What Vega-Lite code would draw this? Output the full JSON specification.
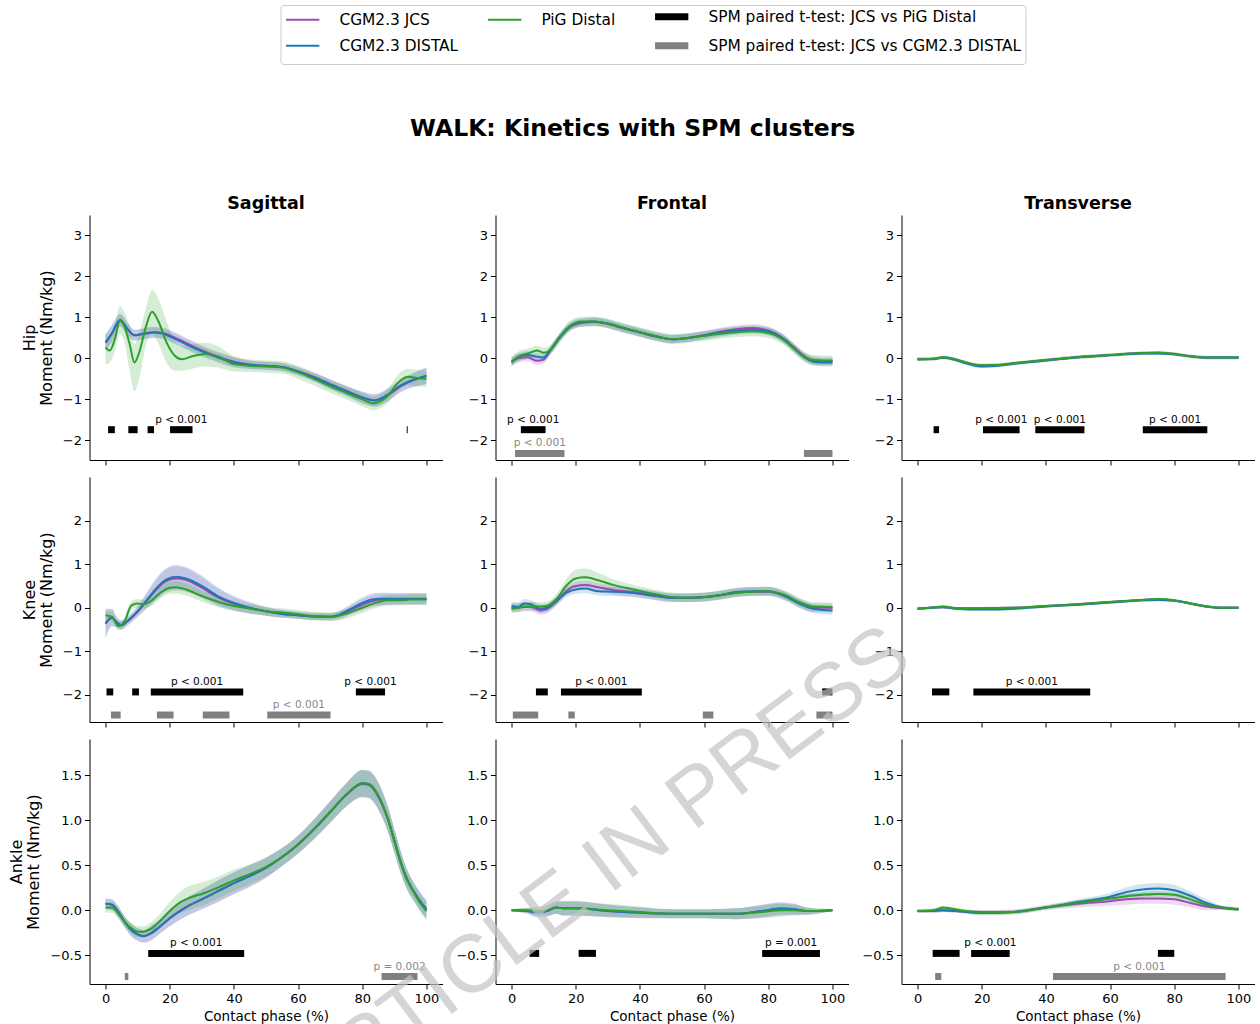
{
"$schema": "https://vega.github.io/schema/vega-lite/v6.json",
"background": "white",
"padding": {"left": 8.5, "top": 4, "right": 0, "bottom": 0},
"title": {"text": "WALK: Kinetics with SPM clusters", "fontSize": 23.5, "fontWeight": "bold", "font": "DejaVu Sans", "anchor": "middle", "offset": -136, "dx": 1, "color": "#000000"},
"datasets": {
"c": [
{"p":"HS","s":"J","x":0,"y":0.38,"lo":0.18,"hi":0.58},{"p":"HS","s":"J","x":2,"y":0.6,"lo":0.4,"hi":0.8},{"p":"HS","s":"J","x":4.5,"y":0.92,"lo":0.77,"hi":1.07},{"p":"HS","s":"J","x":7,"y":0.7,"lo":0.55,"hi":0.85},{"p":"HS","s":"J","x":9,"y":0.57,"lo":0.44,"hi":0.7},{"p":"HS","s":"J","x":12,"y":0.61,"lo":0.48,"hi":0.74},{"p":"HS","s":"J","x":15,"y":0.64,"lo":0.51,"hi":0.77},{"p":"HS","s":"J","x":18,"y":0.62,"lo":0.49,"hi":0.75},{"p":"HS","s":"J","x":21,"y":0.53,"lo":0.4,"hi":0.66},{"p":"HS","s":"J","x":25,"y":0.38,"lo":0.25,"hi":0.51},{"p":"HS","s":"J","x":29,"y":0.23,"lo":0.1,"hi":0.36},{"p":"HS","s":"J","x":34,"y":0.07,"lo":-0.05,"hi":0.19},{"p":"HS","s":"J","x":40,"y":-0.08,"lo":-0.2,"hi":0.04},{"p":"HS","s":"J","x":45,"y":-0.15,"lo":-0.25,"hi":-0.05},{"p":"HS","s":"J","x":50,"y":-0.18,"lo":-0.28,"hi":-0.08},{"p":"HS","s":"J","x":55,"y":-0.21,"lo":-0.31,"hi":-0.11},{"p":"HS","s":"J","x":60,"y":-0.31,"lo":-0.41,"hi":-0.21},{"p":"HS","s":"J","x":65,"y":-0.45,"lo":-0.55,"hi":-0.35},{"p":"HS","s":"J","x":70,"y":-0.62,"lo":-0.74,"hi":-0.5},{"p":"HS","s":"J","x":75,"y":-0.79,"lo":-0.91,"hi":-0.67},{"p":"HS","s":"J","x":80,"y":-0.95,"lo":-1.09,"hi":-0.81},{"p":"HS","s":"J","x":84,"y":-1.02,"lo":-1.17,"hi":-0.87},{"p":"HS","s":"J","x":88,"y":-0.9,"lo":-1.05,"hi":-0.75},{"p":"HS","s":"J","x":92,"y":-0.68,"lo":-0.83,"hi":-0.53},{"p":"HS","s":"J","x":96,"y":-0.53,"lo":-0.7,"hi":-0.36},{"p":"HS","s":"J","x":100,"y":-0.43,"lo":-0.63,"hi":-0.23},
{"p":"HS","s":"D","x":0,"y":0.39,"lo":0.19,"hi":0.59},{"p":"HS","s":"D","x":2,"y":0.62,"lo":0.42,"hi":0.82},{"p":"HS","s":"D","x":4.5,"y":0.94,"lo":0.79,"hi":1.09},{"p":"HS","s":"D","x":7,"y":0.7,"lo":0.55,"hi":0.85},{"p":"HS","s":"D","x":9,"y":0.56,"lo":0.43,"hi":0.69},{"p":"HS","s":"D","x":12,"y":0.6,"lo":0.47,"hi":0.73},{"p":"HS","s":"D","x":15,"y":0.63,"lo":0.5,"hi":0.76},{"p":"HS","s":"D","x":18,"y":0.6,"lo":0.47,"hi":0.73},{"p":"HS","s":"D","x":21,"y":0.5,"lo":0.37,"hi":0.63},{"p":"HS","s":"D","x":25,"y":0.35,"lo":0.22,"hi":0.48},{"p":"HS","s":"D","x":29,"y":0.2,"lo":0.07,"hi":0.33},{"p":"HS","s":"D","x":34,"y":0.05,"lo":-0.07,"hi":0.17},{"p":"HS","s":"D","x":40,"y":-0.1,"lo":-0.22,"hi":0.02},{"p":"HS","s":"D","x":45,"y":-0.16,"lo":-0.26,"hi":-0.06},{"p":"HS","s":"D","x":50,"y":-0.18,"lo":-0.28,"hi":-0.08},{"p":"HS","s":"D","x":55,"y":-0.21,"lo":-0.31,"hi":-0.11},{"p":"HS","s":"D","x":60,"y":-0.32,"lo":-0.42,"hi":-0.22},{"p":"HS","s":"D","x":65,"y":-0.47,"lo":-0.57,"hi":-0.37},{"p":"HS","s":"D","x":70,"y":-0.64,"lo":-0.76,"hi":-0.52},{"p":"HS","s":"D","x":75,"y":-0.8,"lo":-0.92,"hi":-0.68},{"p":"HS","s":"D","x":80,"y":-0.96,"lo":-1.1,"hi":-0.82},{"p":"HS","s":"D","x":84,"y":-1.03,"lo":-1.18,"hi":-0.88},{"p":"HS","s":"D","x":88,"y":-0.88,"lo":-1.03,"hi":-0.73},{"p":"HS","s":"D","x":92,"y":-0.66,"lo":-0.81,"hi":-0.51},{"p":"HS","s":"D","x":96,"y":-0.52,"lo":-0.69,"hi":-0.35},{"p":"HS","s":"D","x":100,"y":-0.42,"lo":-0.62,"hi":-0.22},
{"p":"HS","s":"P","x":0,"y":0.27,"lo":-0.15,"hi":0.65},{"p":"HS","s":"P","x":1.3,"y":0.19,"lo":-0.1,"hi":0.5},{"p":"HS","s":"P","x":3,"y":0.5,"lo":0.2,"hi":0.85},{"p":"HS","s":"P","x":4.5,"y":0.93,"lo":0.6,"hi":1.28},{"p":"HS","s":"P","x":6,"y":0.75,"lo":0.35,"hi":1.1},{"p":"HS","s":"P","x":7.5,"y":0.35,"lo":-0.3,"hi":0.8},{"p":"HS","s":"P","x":9,"y":-0.1,"lo":-0.8,"hi":0.35},{"p":"HS","s":"P","x":10.5,"y":0.15,"lo":-0.5,"hi":0.6},{"p":"HS","s":"P","x":12.5,"y":0.75,"lo":0.3,"hi":1.2},{"p":"HS","s":"P","x":14.5,"y":1.14,"lo":0.6,"hi":1.67},{"p":"HS","s":"P","x":16.5,"y":0.9,"lo":0.35,"hi":1.45},{"p":"HS","s":"P","x":19,"y":0.39,"lo":-0.1,"hi":0.9},{"p":"HS","s":"P","x":21.5,"y":0.07,"lo":-0.3,"hi":0.45},{"p":"HS","s":"P","x":23.7,"y":-0.02,"lo":-0.3,"hi":0.3},{"p":"HS","s":"P","x":27,"y":0.05,"lo":-0.25,"hi":0.35},{"p":"HS","s":"P","x":31,"y":0.11,"lo":-0.2,"hi":0.38},{"p":"HS","s":"P","x":35,"y":0.05,"lo":-0.22,"hi":0.3},{"p":"HS","s":"P","x":40,"y":-0.14,"lo":-0.32,"hi":0.05},{"p":"HS","s":"P","x":45,"y":-0.18,"lo":-0.33,"hi":-0.03},{"p":"HS","s":"P","x":50,"y":-0.2,"lo":-0.35,"hi":-0.05},{"p":"HS","s":"P","x":55,"y":-0.22,"lo":-0.37,"hi":-0.07},{"p":"HS","s":"P","x":60,"y":-0.34,"lo":-0.5,"hi":-0.18},{"p":"HS","s":"P","x":65,"y":-0.5,"lo":-0.66,"hi":-0.34},{"p":"HS","s":"P","x":70,"y":-0.68,"lo":-0.84,"hi":-0.52},{"p":"HS","s":"P","x":75,"y":-0.84,"lo":-1.0,"hi":-0.68},{"p":"HS","s":"P","x":80,"y":-1.0,"lo":-1.17,"hi":-0.83},{"p":"HS","s":"P","x":83.5,"y":-1.1,"lo":-1.27,"hi":-0.93},{"p":"HS","s":"P","x":87.5,"y":-0.95,"lo":-1.12,"hi":-0.78},{"p":"HS","s":"P","x":91.7,"y":-0.55,"lo":-0.75,"hi":-0.35},{"p":"HS","s":"P","x":94.3,"y":-0.45,"lo":-0.65,"hi":-0.25},{"p":"HS","s":"P","x":97,"y":-0.48,"lo":-0.68,"hi":-0.28},{"p":"HS","s":"P","x":100,"y":-0.5,"lo":-0.7,"hi":-0.3},

{"p":"HF","s":"J","x":0,"y":-0.1,"lo":-0.2,"hi":0.0},{"p":"HF","s":"J","x":2,"y":0.0,"lo":-0.1,"hi":0.1},{"p":"HF","s":"J","x":5,"y":0.03,"lo":-0.07,"hi":0.13},{"p":"HF","s":"J","x":8,"y":-0.06,"lo":-0.16,"hi":0.04},{"p":"HF","s":"J","x":10,"y":-0.03,"lo":-0.13,"hi":0.07},{"p":"HF","s":"J","x":12,"y":0.18,"lo":0.08,"hi":0.28},{"p":"HF","s":"J","x":15,"y":0.5,"lo":0.4,"hi":0.6},{"p":"HF","s":"J","x":18,"y":0.75,"lo":0.65,"hi":0.85},{"p":"HF","s":"J","x":22,"y":0.87,"lo":0.77,"hi":0.97},{"p":"HF","s":"J","x":26,"y":0.89,"lo":0.79,"hi":0.99},{"p":"HF","s":"J","x":30,"y":0.84,"lo":0.74,"hi":0.94},{"p":"HF","s":"J","x":35,"y":0.73,"lo":0.63,"hi":0.83},{"p":"HF","s":"J","x":40,"y":0.63,"lo":0.53,"hi":0.73},{"p":"HF","s":"J","x":45,"y":0.53,"lo":0.43,"hi":0.63},{"p":"HF","s":"J","x":50,"y":0.47,"lo":0.37,"hi":0.57},{"p":"HF","s":"J","x":55,"y":0.5,"lo":0.4,"hi":0.6},{"p":"HF","s":"J","x":60,"y":0.57,"lo":0.47,"hi":0.67},{"p":"HF","s":"J","x":65,"y":0.65,"lo":0.55,"hi":0.75},{"p":"HF","s":"J","x":70,"y":0.71,"lo":0.61,"hi":0.81},{"p":"HF","s":"J","x":75,"y":0.74,"lo":0.64,"hi":0.84},{"p":"HF","s":"J","x":80,"y":0.68,"lo":0.58,"hi":0.78},{"p":"HF","s":"J","x":85,"y":0.47,"lo":0.37,"hi":0.57},{"p":"HF","s":"J","x":88,"y":0.27,"lo":0.17,"hi":0.37},{"p":"HF","s":"J","x":91,"y":0.07,"lo":-0.03,"hi":0.17},{"p":"HF","s":"J","x":94,"y":-0.05,"lo":-0.15,"hi":0.05},{"p":"HF","s":"J","x":97,"y":-0.07,"lo":-0.17,"hi":0.03},{"p":"HF","s":"J","x":100,"y":-0.07,"lo":-0.17,"hi":0.03},
{"p":"HF","s":"D","x":0,"y":-0.08,"lo":-0.18,"hi":0.02},{"p":"HF","s":"D","x":2,"y":0.03,"lo":-0.07,"hi":0.13},{"p":"HF","s":"D","x":5,"y":0.08,"lo":-0.02,"hi":0.18},{"p":"HF","s":"D","x":8,"y":0.04,"lo":-0.06,"hi":0.14},{"p":"HF","s":"D","x":10,"y":0.02,"lo":-0.08,"hi":0.12},{"p":"HF","s":"D","x":12,"y":0.2,"lo":0.1,"hi":0.3},{"p":"HF","s":"D","x":15,"y":0.52,"lo":0.42,"hi":0.62},{"p":"HF","s":"D","x":18,"y":0.77,"lo":0.67,"hi":0.87},{"p":"HF","s":"D","x":22,"y":0.88,"lo":0.78,"hi":0.98},{"p":"HF","s":"D","x":26,"y":0.9,"lo":0.8,"hi":1.0},{"p":"HF","s":"D","x":30,"y":0.85,"lo":0.75,"hi":0.95},{"p":"HF","s":"D","x":35,"y":0.74,"lo":0.64,"hi":0.84},{"p":"HF","s":"D","x":40,"y":0.64,"lo":0.54,"hi":0.74},{"p":"HF","s":"D","x":45,"y":0.54,"lo":0.44,"hi":0.64},{"p":"HF","s":"D","x":50,"y":0.47,"lo":0.37,"hi":0.57},{"p":"HF","s":"D","x":55,"y":0.5,"lo":0.4,"hi":0.6},{"p":"HF","s":"D","x":60,"y":0.56,"lo":0.46,"hi":0.66},{"p":"HF","s":"D","x":65,"y":0.63,"lo":0.53,"hi":0.73},{"p":"HF","s":"D","x":70,"y":0.68,"lo":0.58,"hi":0.78},{"p":"HF","s":"D","x":75,"y":0.7,"lo":0.6,"hi":0.8},{"p":"HF","s":"D","x":80,"y":0.66,"lo":0.56,"hi":0.76},{"p":"HF","s":"D","x":85,"y":0.46,"lo":0.36,"hi":0.56},{"p":"HF","s":"D","x":88,"y":0.25,"lo":0.15,"hi":0.35},{"p":"HF","s":"D","x":91,"y":0.04,"lo":-0.06,"hi":0.14},{"p":"HF","s":"D","x":94,"y":-0.08,"lo":-0.18,"hi":0.02},{"p":"HF","s":"D","x":97,"y":-0.1,"lo":-0.2,"hi":0.0},{"p":"HF","s":"D","x":100,"y":-0.1,"lo":-0.2,"hi":0.0},
{"p":"HF","s":"P","x":0,"y":-0.08,"lo":-0.2,"hi":0.04},{"p":"HF","s":"P","x":2,"y":0.04,"lo":-0.08,"hi":0.16},{"p":"HF","s":"P","x":5,"y":0.12,"lo":0.0,"hi":0.24},{"p":"HF","s":"P","x":8,"y":0.19,"lo":0.07,"hi":0.31},{"p":"HF","s":"P","x":10,"y":0.14,"lo":0.02,"hi":0.26},{"p":"HF","s":"P","x":12,"y":0.2,"lo":0.08,"hi":0.32},{"p":"HF","s":"P","x":15,"y":0.5,"lo":0.38,"hi":0.62},{"p":"HF","s":"P","x":18,"y":0.78,"lo":0.66,"hi":0.9},{"p":"HF","s":"P","x":22,"y":0.9,"lo":0.78,"hi":1.02},{"p":"HF","s":"P","x":26,"y":0.9,"lo":0.78,"hi":1.02},{"p":"HF","s":"P","x":30,"y":0.85,"lo":0.73,"hi":0.97},{"p":"HF","s":"P","x":35,"y":0.74,"lo":0.62,"hi":0.86},{"p":"HF","s":"P","x":40,"y":0.64,"lo":0.52,"hi":0.76},{"p":"HF","s":"P","x":45,"y":0.54,"lo":0.42,"hi":0.66},{"p":"HF","s":"P","x":50,"y":0.47,"lo":0.35,"hi":0.59},{"p":"HF","s":"P","x":55,"y":0.5,"lo":0.38,"hi":0.62},{"p":"HF","s":"P","x":60,"y":0.55,"lo":0.43,"hi":0.67},{"p":"HF","s":"P","x":65,"y":0.6,"lo":0.48,"hi":0.72},{"p":"HF","s":"P","x":70,"y":0.64,"lo":0.52,"hi":0.76},{"p":"HF","s":"P","x":75,"y":0.66,"lo":0.54,"hi":0.78},{"p":"HF","s":"P","x":80,"y":0.62,"lo":0.5,"hi":0.74},{"p":"HF","s":"P","x":85,"y":0.44,"lo":0.32,"hi":0.56},{"p":"HF","s":"P","x":88,"y":0.24,"lo":0.12,"hi":0.36},{"p":"HF","s":"P","x":91,"y":0.05,"lo":-0.07,"hi":0.17},{"p":"HF","s":"P","x":94,"y":-0.04,"lo":-0.16,"hi":0.08},{"p":"HF","s":"P","x":97,"y":-0.05,"lo":-0.17,"hi":0.07},{"p":"HF","s":"P","x":100,"y":-0.05,"lo":-0.17,"hi":0.07},

{"p":"HT","s":"J","x":0,"y":-0.02,"lo":-0.06,"hi":0.02},{"p":"HT","s":"J","x":5,"y":-0.01,"lo":-0.05,"hi":0.03},{"p":"HT","s":"J","x":8,"y":0.02,"lo":-0.02,"hi":0.06},{"p":"HT","s":"J","x":11,"y":-0.01,"lo":-0.05,"hi":0.03},{"p":"HT","s":"J","x":15,"y":-0.1,"lo":-0.14,"hi":-0.06},{"p":"HT","s":"J","x":20,"y":-0.17,"lo":-0.21,"hi":-0.13},{"p":"HT","s":"J","x":25,"y":-0.16,"lo":-0.2,"hi":-0.12},{"p":"HT","s":"J","x":30,"y":-0.12,"lo":-0.16,"hi":-0.08},{"p":"HT","s":"J","x":40,"y":-0.04,"lo":-0.08,"hi":0.0},{"p":"HT","s":"J","x":50,"y":0.03,"lo":-0.01,"hi":0.07},{"p":"HT","s":"J","x":60,"y":0.08,"lo":0.04,"hi":0.12},{"p":"HT","s":"J","x":70,"y":0.13,"lo":0.09,"hi":0.17},{"p":"HT","s":"J","x":75,"y":0.14,"lo":0.1,"hi":0.18},{"p":"HT","s":"J","x":80,"y":0.11,"lo":0.07,"hi":0.15},{"p":"HT","s":"J","x":85,"y":0.05,"lo":0.01,"hi":0.09},{"p":"HT","s":"J","x":90,"y":0.02,"lo":-0.02,"hi":0.06},{"p":"HT","s":"J","x":100,"y":0.02,"lo":-0.02,"hi":0.06},
{"p":"HT","s":"D","x":0,"y":-0.02,"lo":-0.06,"hi":0.02},{"p":"HT","s":"D","x":5,"y":-0.01,"lo":-0.05,"hi":0.03},{"p":"HT","s":"D","x":8,"y":0.02,"lo":-0.02,"hi":0.06},{"p":"HT","s":"D","x":11,"y":-0.02,"lo":-0.06,"hi":0.02},{"p":"HT","s":"D","x":15,"y":-0.12,"lo":-0.16,"hi":-0.08},{"p":"HT","s":"D","x":20,"y":-0.2,"lo":-0.24,"hi":-0.16},{"p":"HT","s":"D","x":25,"y":-0.18,"lo":-0.22,"hi":-0.14},{"p":"HT","s":"D","x":30,"y":-0.13,"lo":-0.17,"hi":-0.09},{"p":"HT","s":"D","x":40,"y":-0.05,"lo":-0.09,"hi":-0.01},{"p":"HT","s":"D","x":50,"y":0.03,"lo":-0.01,"hi":0.07},{"p":"HT","s":"D","x":60,"y":0.08,"lo":0.04,"hi":0.12},{"p":"HT","s":"D","x":70,"y":0.12,"lo":0.08,"hi":0.16},{"p":"HT","s":"D","x":75,"y":0.12,"lo":0.08,"hi":0.16},{"p":"HT","s":"D","x":80,"y":0.1,"lo":0.06,"hi":0.14},{"p":"HT","s":"D","x":85,"y":0.05,"lo":0.01,"hi":0.09},{"p":"HT","s":"D","x":90,"y":0.02,"lo":-0.02,"hi":0.06},{"p":"HT","s":"D","x":100,"y":0.02,"lo":-0.02,"hi":0.06},
{"p":"HT","s":"P","x":0,"y":-0.02,"lo":-0.06,"hi":0.02},{"p":"HT","s":"P","x":5,"y":-0.01,"lo":-0.05,"hi":0.03},{"p":"HT","s":"P","x":8,"y":0.03,"lo":-0.01,"hi":0.07},{"p":"HT","s":"P","x":11,"y":-0.01,"lo":-0.05,"hi":0.03},{"p":"HT","s":"P","x":15,"y":-0.1,"lo":-0.14,"hi":-0.06},{"p":"HT","s":"P","x":20,"y":-0.17,"lo":-0.21,"hi":-0.13},{"p":"HT","s":"P","x":25,"y":-0.16,"lo":-0.2,"hi":-0.12},{"p":"HT","s":"P","x":30,"y":-0.12,"lo":-0.16,"hi":-0.08},{"p":"HT","s":"P","x":40,"y":-0.04,"lo":-0.08,"hi":0.0},{"p":"HT","s":"P","x":50,"y":0.03,"lo":-0.01,"hi":0.07},{"p":"HT","s":"P","x":60,"y":0.08,"lo":0.04,"hi":0.12},{"p":"HT","s":"P","x":70,"y":0.13,"lo":0.09,"hi":0.17},{"p":"HT","s":"P","x":75,"y":0.14,"lo":0.1,"hi":0.18},{"p":"HT","s":"P","x":80,"y":0.11,"lo":0.07,"hi":0.15},{"p":"HT","s":"P","x":85,"y":0.05,"lo":0.01,"hi":0.09},{"p":"HT","s":"P","x":90,"y":0.02,"lo":-0.02,"hi":0.06},{"p":"HT","s":"P","x":100,"y":0.02,"lo":-0.02,"hi":0.06},

{"p":"KS","s":"J","x":0,"y":-0.35,"lo":-0.68,"hi":-0.02},{"p":"KS","s":"J","x":2,"y":-0.22,"lo":-0.42,"hi":-0.02},{"p":"KS","s":"J","x":3.5,"y":-0.33,"lo":-0.45,"hi":-0.21},{"p":"KS","s":"J","x":5,"y":-0.4,"lo":-0.5,"hi":-0.3},{"p":"KS","s":"J","x":7,"y":-0.3,"lo":-0.4,"hi":-0.2},{"p":"KS","s":"J","x":10,"y":-0.09,"lo":-0.21,"hi":0.03},{"p":"KS","s":"J","x":13,"y":0.17,"lo":-0.01,"hi":0.35},{"p":"KS","s":"J","x":16,"y":0.43,"lo":0.19,"hi":0.67},{"p":"KS","s":"J","x":19,"y":0.62,"lo":0.35,"hi":0.89},{"p":"KS","s":"J","x":22,"y":0.67,"lo":0.39,"hi":0.95},{"p":"KS","s":"J","x":25,"y":0.64,"lo":0.37,"hi":0.91},{"p":"KS","s":"J","x":30,"y":0.46,"lo":0.22,"hi":0.7},{"p":"KS","s":"J","x":35,"y":0.24,"lo":0.04,"hi":0.44},{"p":"KS","s":"J","x":40,"y":0.09,"lo":-0.07,"hi":0.25},{"p":"KS","s":"J","x":45,"y":-0.01,"lo":-0.14,"hi":0.12},{"p":"KS","s":"J","x":50,"y":-0.08,"lo":-0.18,"hi":0.02},{"p":"KS","s":"J","x":55,"y":-0.14,"lo":-0.23,"hi":-0.05},{"p":"KS","s":"J","x":60,"y":-0.17,"lo":-0.25,"hi":-0.09},{"p":"KS","s":"J","x":65,"y":-0.2,"lo":-0.28,"hi":-0.12},{"p":"KS","s":"J","x":70,"y":-0.21,"lo":-0.29,"hi":-0.13},{"p":"KS","s":"J","x":73,"y":-0.17,"lo":-0.26,"hi":-0.08},{"p":"KS","s":"J","x":77,"y":-0.03,"lo":-0.14,"hi":0.08},{"p":"KS","s":"J","x":80,"y":0.07,"lo":-0.06,"hi":0.2},{"p":"KS","s":"J","x":83,"y":0.15,"lo":0.01,"hi":0.29},{"p":"KS","s":"J","x":86,"y":0.19,"lo":0.05,"hi":0.33},{"p":"KS","s":"J","x":90,"y":0.2,"lo":0.07,"hi":0.33},{"p":"KS","s":"J","x":95,"y":0.2,"lo":0.07,"hi":0.33},{"p":"KS","s":"J","x":100,"y":0.2,"lo":0.07,"hi":0.33},
{"p":"KS","s":"D","x":0,"y":-0.37,"lo":-0.7,"hi":-0.04},{"p":"KS","s":"D","x":2,"y":-0.23,"lo":-0.43,"hi":-0.03},{"p":"KS","s":"D","x":3.5,"y":-0.33,"lo":-0.45,"hi":-0.21},{"p":"KS","s":"D","x":5,"y":-0.4,"lo":-0.5,"hi":-0.3},{"p":"KS","s":"D","x":7,"y":-0.29,"lo":-0.39,"hi":-0.19},{"p":"KS","s":"D","x":10,"y":-0.08,"lo":-0.2,"hi":0.04},{"p":"KS","s":"D","x":13,"y":0.19,"lo":0.01,"hi":0.37},{"p":"KS","s":"D","x":16,"y":0.46,"lo":0.22,"hi":0.7},{"p":"KS","s":"D","x":19,"y":0.65,"lo":0.38,"hi":0.92},{"p":"KS","s":"D","x":22,"y":0.71,"lo":0.43,"hi":0.99},{"p":"KS","s":"D","x":25,"y":0.67,"lo":0.4,"hi":0.94},{"p":"KS","s":"D","x":30,"y":0.5,"lo":0.26,"hi":0.74},{"p":"KS","s":"D","x":35,"y":0.27,"lo":0.07,"hi":0.47},{"p":"KS","s":"D","x":40,"y":0.11,"lo":-0.05,"hi":0.27},{"p":"KS","s":"D","x":45,"y":0.0,"lo":-0.13,"hi":0.13},{"p":"KS","s":"D","x":50,"y":-0.08,"lo":-0.18,"hi":0.02},{"p":"KS","s":"D","x":55,"y":-0.14,"lo":-0.23,"hi":-0.05},{"p":"KS","s":"D","x":60,"y":-0.17,"lo":-0.25,"hi":-0.09},{"p":"KS","s":"D","x":65,"y":-0.2,"lo":-0.28,"hi":-0.12},{"p":"KS","s":"D","x":70,"y":-0.2,"lo":-0.28,"hi":-0.12},{"p":"KS","s":"D","x":73,"y":-0.15,"lo":-0.24,"hi":-0.06},{"p":"KS","s":"D","x":77,"y":0.0,"lo":-0.11,"hi":0.11},{"p":"KS","s":"D","x":80,"y":0.11,"lo":-0.02,"hi":0.24},{"p":"KS","s":"D","x":83,"y":0.19,"lo":0.05,"hi":0.33},{"p":"KS","s":"D","x":86,"y":0.21,"lo":0.07,"hi":0.35},{"p":"KS","s":"D","x":90,"y":0.21,"lo":0.08,"hi":0.34},{"p":"KS","s":"D","x":95,"y":0.21,"lo":0.08,"hi":0.34},{"p":"KS","s":"D","x":100,"y":0.21,"lo":0.08,"hi":0.34},
{"p":"KS","s":"P","x":0,"y":-0.17,"lo":-0.27,"hi":-0.07},{"p":"KS","s":"P","x":2,"y":-0.21,"lo":-0.31,"hi":-0.11},{"p":"KS","s":"P","x":4,"y":-0.42,"lo":-0.52,"hi":-0.32},{"p":"KS","s":"P","x":6,"y":-0.3,"lo":-0.4,"hi":-0.2},{"p":"KS","s":"P","x":8,"y":0.05,"lo":-0.05,"hi":0.15},{"p":"KS","s":"P","x":10,"y":0.1,"lo":0.0,"hi":0.2},{"p":"KS","s":"P","x":12,"y":0.08,"lo":-0.02,"hi":0.18},{"p":"KS","s":"P","x":14,"y":0.15,"lo":0.03,"hi":0.27},{"p":"KS","s":"P","x":17,"y":0.34,"lo":0.21,"hi":0.47},{"p":"KS","s":"P","x":20,"y":0.46,"lo":0.32,"hi":0.6},{"p":"KS","s":"P","x":22,"y":0.47,"lo":0.33,"hi":0.61},{"p":"KS","s":"P","x":25,"y":0.42,"lo":0.28,"hi":0.56},{"p":"KS","s":"P","x":30,"y":0.27,"lo":0.14,"hi":0.4},{"p":"KS","s":"P","x":35,"y":0.14,"lo":0.02,"hi":0.26},{"p":"KS","s":"P","x":40,"y":0.04,"lo":-0.07,"hi":0.15},{"p":"KS","s":"P","x":45,"y":-0.02,"lo":-0.12,"hi":0.08},{"p":"KS","s":"P","x":50,"y":-0.08,"lo":-0.18,"hi":0.02},{"p":"KS","s":"P","x":55,"y":-0.11,"lo":-0.21,"hi":-0.01},{"p":"KS","s":"P","x":60,"y":-0.15,"lo":-0.25,"hi":-0.05},{"p":"KS","s":"P","x":65,"y":-0.19,"lo":-0.29,"hi":-0.09},{"p":"KS","s":"P","x":70,"y":-0.21,"lo":-0.31,"hi":-0.11},{"p":"KS","s":"P","x":75,"y":-0.14,"lo":-0.25,"hi":-0.03},{"p":"KS","s":"P","x":80,"y":0.0,"lo":-0.12,"hi":0.12},{"p":"KS","s":"P","x":85,"y":0.13,"lo":0.01,"hi":0.25},{"p":"KS","s":"P","x":88,"y":0.17,"lo":0.05,"hi":0.29},{"p":"KS","s":"P","x":92,"y":0.17,"lo":0.05,"hi":0.29},{"p":"KS","s":"P","x":95,"y":0.19,"lo":0.07,"hi":0.31},{"p":"KS","s":"P","x":100,"y":0.19,"lo":0.07,"hi":0.31},

{"p":"KF","s":"J","x":0,"y":0.0,"lo":-0.1,"hi":0.1},{"p":"KF","s":"J","x":2,"y":0.0,"lo":-0.1,"hi":0.1},{"p":"KF","s":"J","x":4,"y":0.02,"lo":-0.08,"hi":0.12},{"p":"KF","s":"J","x":6,"y":0.02,"lo":-0.08,"hi":0.12},{"p":"KF","s":"J","x":9,"y":-0.06,"lo":-0.16,"hi":0.04},{"p":"KF","s":"J","x":11,"y":-0.03,"lo":-0.13,"hi":0.07},{"p":"KF","s":"J","x":14,"y":0.15,"lo":0.05,"hi":0.25},{"p":"KF","s":"J","x":17,"y":0.38,"lo":0.28,"hi":0.48},{"p":"KF","s":"J","x":20,"y":0.5,"lo":0.4,"hi":0.6},{"p":"KF","s":"J","x":23,"y":0.52,"lo":0.42,"hi":0.62},{"p":"KF","s":"J","x":27,"y":0.47,"lo":0.37,"hi":0.57},{"p":"KF","s":"J","x":32,"y":0.4,"lo":0.3,"hi":0.5},{"p":"KF","s":"J","x":38,"y":0.36,"lo":0.26,"hi":0.46},{"p":"KF","s":"J","x":45,"y":0.28,"lo":0.18,"hi":0.38},{"p":"KF","s":"J","x":50,"y":0.23,"lo":0.13,"hi":0.33},{"p":"KF","s":"J","x":55,"y":0.23,"lo":0.13,"hi":0.33},{"p":"KF","s":"J","x":60,"y":0.25,"lo":0.15,"hi":0.35},{"p":"KF","s":"J","x":65,"y":0.29,"lo":0.19,"hi":0.39},{"p":"KF","s":"J","x":70,"y":0.35,"lo":0.25,"hi":0.45},{"p":"KF","s":"J","x":75,"y":0.37,"lo":0.27,"hi":0.47},{"p":"KF","s":"J","x":80,"y":0.37,"lo":0.27,"hi":0.47},{"p":"KF","s":"J","x":85,"y":0.28,"lo":0.18,"hi":0.38},{"p":"KF","s":"J","x":90,"y":0.1,"lo":0.0,"hi":0.2},{"p":"KF","s":"J","x":94,"y":0.0,"lo":-0.1,"hi":0.1},{"p":"KF","s":"J","x":100,"y":0.0,"lo":-0.1,"hi":0.1},
{"p":"KF","s":"D","x":0,"y":0.04,"lo":-0.06,"hi":0.14},{"p":"KF","s":"D","x":2,"y":0.02,"lo":-0.08,"hi":0.12},{"p":"KF","s":"D","x":4,"y":0.1,"lo":0.0,"hi":0.2},{"p":"KF","s":"D","x":6,"y":0.08,"lo":-0.02,"hi":0.18},{"p":"KF","s":"D","x":9,"y":-0.02,"lo":-0.12,"hi":0.08},{"p":"KF","s":"D","x":11,"y":0.0,"lo":-0.1,"hi":0.1},{"p":"KF","s":"D","x":14,"y":0.15,"lo":0.05,"hi":0.25},{"p":"KF","s":"D","x":17,"y":0.34,"lo":0.24,"hi":0.44},{"p":"KF","s":"D","x":20,"y":0.42,"lo":0.32,"hi":0.52},{"p":"KF","s":"D","x":23,"y":0.44,"lo":0.34,"hi":0.54},{"p":"KF","s":"D","x":27,"y":0.38,"lo":0.28,"hi":0.48},{"p":"KF","s":"D","x":32,"y":0.37,"lo":0.27,"hi":0.47},{"p":"KF","s":"D","x":38,"y":0.34,"lo":0.24,"hi":0.44},{"p":"KF","s":"D","x":45,"y":0.27,"lo":0.17,"hi":0.37},{"p":"KF","s":"D","x":50,"y":0.23,"lo":0.13,"hi":0.33},{"p":"KF","s":"D","x":55,"y":0.23,"lo":0.13,"hi":0.33},{"p":"KF","s":"D","x":60,"y":0.24,"lo":0.14,"hi":0.34},{"p":"KF","s":"D","x":65,"y":0.29,"lo":0.19,"hi":0.39},{"p":"KF","s":"D","x":70,"y":0.36,"lo":0.26,"hi":0.46},{"p":"KF","s":"D","x":75,"y":0.38,"lo":0.28,"hi":0.48},{"p":"KF","s":"D","x":80,"y":0.38,"lo":0.28,"hi":0.48},{"p":"KF","s":"D","x":85,"y":0.27,"lo":0.17,"hi":0.37},{"p":"KF","s":"D","x":90,"y":0.08,"lo":-0.02,"hi":0.18},{"p":"KF","s":"D","x":94,"y":-0.02,"lo":-0.12,"hi":0.08},{"p":"KF","s":"D","x":100,"y":-0.06,"lo":-0.16,"hi":0.04},
{"p":"KF","s":"P","x":0,"y":-0.02,"lo":-0.12,"hi":0.08},{"p":"KF","s":"P","x":2,"y":0.0,"lo":-0.1,"hi":0.1},{"p":"KF","s":"P","x":4,"y":0.03,"lo":-0.07,"hi":0.13},{"p":"KF","s":"P","x":6,"y":0.03,"lo":-0.07,"hi":0.13},{"p":"KF","s":"P","x":9,"y":0.03,"lo":-0.07,"hi":0.13},{"p":"KF","s":"P","x":11,"y":0.04,"lo":-0.06,"hi":0.14},{"p":"KF","s":"P","x":14,"y":0.2,"lo":0.08,"hi":0.32},{"p":"KF","s":"P","x":17,"y":0.5,"lo":0.35,"hi":0.65},{"p":"KF","s":"P","x":20,"y":0.67,"lo":0.47,"hi":0.87},{"p":"KF","s":"P","x":23,"y":0.7,"lo":0.5,"hi":0.9},{"p":"KF","s":"P","x":27,"y":0.63,"lo":0.46,"hi":0.8},{"p":"KF","s":"P","x":32,"y":0.52,"lo":0.39,"hi":0.65},{"p":"KF","s":"P","x":38,"y":0.42,"lo":0.32,"hi":0.52},{"p":"KF","s":"P","x":45,"y":0.31,"lo":0.21,"hi":0.41},{"p":"KF","s":"P","x":50,"y":0.25,"lo":0.15,"hi":0.35},{"p":"KF","s":"P","x":55,"y":0.23,"lo":0.13,"hi":0.33},{"p":"KF","s":"P","x":60,"y":0.25,"lo":0.15,"hi":0.35},{"p":"KF","s":"P","x":65,"y":0.29,"lo":0.19,"hi":0.39},{"p":"KF","s":"P","x":70,"y":0.34,"lo":0.24,"hi":0.44},{"p":"KF","s":"P","x":75,"y":0.37,"lo":0.27,"hi":0.47},{"p":"KF","s":"P","x":80,"y":0.38,"lo":0.28,"hi":0.48},{"p":"KF","s":"P","x":85,"y":0.3,"lo":0.2,"hi":0.4},{"p":"KF","s":"P","x":90,"y":0.12,"lo":0.02,"hi":0.22},{"p":"KF","s":"P","x":94,"y":0.03,"lo":-0.07,"hi":0.13},{"p":"KF","s":"P","x":100,"y":0.02,"lo":-0.08,"hi":0.12},

{"p":"KT","s":"J","x":0,"y":-0.02,"lo":-0.05,"hi":0.01},{"p":"KT","s":"J","x":4,"y":0.0,"lo":-0.03,"hi":0.03},{"p":"KT","s":"J","x":8,"y":0.02,"lo":-0.01,"hi":0.05},{"p":"KT","s":"J","x":12,"y":-0.01,"lo":-0.04,"hi":0.02},{"p":"KT","s":"J","x":20,"y":-0.01,"lo":-0.04,"hi":0.02},{"p":"KT","s":"J","x":30,"y":0.0,"lo":-0.03,"hi":0.03},{"p":"KT","s":"J","x":40,"y":0.04,"lo":0.01,"hi":0.07},{"p":"KT","s":"J","x":50,"y":0.08,"lo":0.05,"hi":0.11},{"p":"KT","s":"J","x":60,"y":0.13,"lo":0.1,"hi":0.16},{"p":"KT","s":"J","x":70,"y":0.18,"lo":0.15,"hi":0.21},{"p":"KT","s":"J","x":75,"y":0.19,"lo":0.16,"hi":0.22},{"p":"KT","s":"J","x":80,"y":0.17,"lo":0.14,"hi":0.2},{"p":"KT","s":"J","x":85,"y":0.1,"lo":0.07,"hi":0.13},{"p":"KT","s":"J","x":90,"y":0.03,"lo":0.0,"hi":0.06},{"p":"KT","s":"J","x":95,"y":0.0,"lo":-0.03,"hi":0.03},{"p":"KT","s":"J","x":100,"y":0.0,"lo":-0.03,"hi":0.03},
{"p":"KT","s":"D","x":0,"y":-0.02,"lo":-0.05,"hi":0.01},{"p":"KT","s":"D","x":4,"y":0.0,"lo":-0.03,"hi":0.03},{"p":"KT","s":"D","x":8,"y":0.01,"lo":-0.02,"hi":0.04},{"p":"KT","s":"D","x":12,"y":-0.02,"lo":-0.05,"hi":0.01},{"p":"KT","s":"D","x":20,"y":-0.04,"lo":-0.07,"hi":-0.01},{"p":"KT","s":"D","x":30,"y":-0.02,"lo":-0.05,"hi":0.01},{"p":"KT","s":"D","x":40,"y":0.03,"lo":0.0,"hi":0.06},{"p":"KT","s":"D","x":50,"y":0.07,"lo":0.04,"hi":0.1},{"p":"KT","s":"D","x":60,"y":0.12,"lo":0.09,"hi":0.15},{"p":"KT","s":"D","x":70,"y":0.17,"lo":0.14,"hi":0.2},{"p":"KT","s":"D","x":75,"y":0.18,"lo":0.15,"hi":0.21},{"p":"KT","s":"D","x":80,"y":0.16,"lo":0.13,"hi":0.19},{"p":"KT","s":"D","x":85,"y":0.1,"lo":0.07,"hi":0.13},{"p":"KT","s":"D","x":90,"y":0.03,"lo":0.0,"hi":0.06},{"p":"KT","s":"D","x":95,"y":0.0,"lo":-0.03,"hi":0.03},{"p":"KT","s":"D","x":100,"y":0.0,"lo":-0.03,"hi":0.03},
{"p":"KT","s":"P","x":0,"y":-0.02,"lo":-0.05,"hi":0.01},{"p":"KT","s":"P","x":4,"y":0.0,"lo":-0.03,"hi":0.03},{"p":"KT","s":"P","x":8,"y":0.03,"lo":0.0,"hi":0.06},{"p":"KT","s":"P","x":12,"y":-0.01,"lo":-0.04,"hi":0.02},{"p":"KT","s":"P","x":20,"y":-0.01,"lo":-0.04,"hi":0.02},{"p":"KT","s":"P","x":30,"y":0.0,"lo":-0.03,"hi":0.03},{"p":"KT","s":"P","x":40,"y":0.04,"lo":0.01,"hi":0.07},{"p":"KT","s":"P","x":50,"y":0.08,"lo":0.05,"hi":0.11},{"p":"KT","s":"P","x":60,"y":0.13,"lo":0.1,"hi":0.16},{"p":"KT","s":"P","x":70,"y":0.18,"lo":0.15,"hi":0.21},{"p":"KT","s":"P","x":75,"y":0.2,"lo":0.17,"hi":0.23},{"p":"KT","s":"P","x":80,"y":0.17,"lo":0.14,"hi":0.2},{"p":"KT","s":"P","x":85,"y":0.1,"lo":0.07,"hi":0.13},{"p":"KT","s":"P","x":90,"y":0.03,"lo":0.0,"hi":0.06},{"p":"KT","s":"P","x":95,"y":0.0,"lo":-0.03,"hi":0.03},{"p":"KT","s":"P","x":100,"y":0.0,"lo":-0.03,"hi":0.03},

{"p":"AS","s":"J","x":0,"y":0.07,"lo":0.01,"hi":0.13},{"p":"AS","s":"J","x":2,"y":0.06,"lo":0.0,"hi":0.12},{"p":"AS","s":"J","x":4,"y":-0.02,"lo":-0.08,"hi":0.04},{"p":"AS","s":"J","x":6,"y":-0.13,"lo":-0.19,"hi":-0.07},{"p":"AS","s":"J","x":8,"y":-0.22,"lo":-0.29,"hi":-0.15},{"p":"AS","s":"J","x":10,"y":-0.27,"lo":-0.34,"hi":-0.2},{"p":"AS","s":"J","x":12,"y":-0.29,"lo":-0.36,"hi":-0.22},{"p":"AS","s":"J","x":14,"y":-0.26,"lo":-0.34,"hi":-0.18},{"p":"AS","s":"J","x":17,"y":-0.18,"lo":-0.26,"hi":-0.1},{"p":"AS","s":"J","x":20,"y":-0.09,"lo":-0.18,"hi":0.0},{"p":"AS","s":"J","x":25,"y":0.03,"lo":-0.07,"hi":0.13},{"p":"AS","s":"J","x":30,"y":0.12,"lo":0.01,"hi":0.23},{"p":"AS","s":"J","x":35,"y":0.21,"lo":0.09,"hi":0.33},{"p":"AS","s":"J","x":40,"y":0.3,"lo":0.18,"hi":0.42},{"p":"AS","s":"J","x":45,"y":0.38,"lo":0.26,"hi":0.5},{"p":"AS","s":"J","x":50,"y":0.47,"lo":0.36,"hi":0.58},{"p":"AS","s":"J","x":55,"y":0.59,"lo":0.49,"hi":0.69},{"p":"AS","s":"J","x":60,"y":0.73,"lo":0.63,"hi":0.83},{"p":"AS","s":"J","x":65,"y":0.9,"lo":0.79,"hi":1.01},{"p":"AS","s":"J","x":70,"y":1.09,"lo":0.97,"hi":1.21},{"p":"AS","s":"J","x":75,"y":1.28,"lo":1.15,"hi":1.41},{"p":"AS","s":"J","x":80,"y":1.4,"lo":1.25,"hi":1.55},{"p":"AS","s":"J","x":82,"y":1.39,"lo":1.24,"hi":1.54},{"p":"AS","s":"J","x":85,"y":1.26,"lo":1.11,"hi":1.41},{"p":"AS","s":"J","x":88,"y":1.01,"lo":0.87,"hi":1.15},{"p":"AS","s":"J","x":90,"y":0.77,"lo":0.64,"hi":0.9},{"p":"AS","s":"J","x":92,"y":0.53,"lo":0.41,"hi":0.65},{"p":"AS","s":"J","x":94,"y":0.34,"lo":0.23,"hi":0.45},{"p":"AS","s":"J","x":96,"y":0.21,"lo":0.11,"hi":0.31},{"p":"AS","s":"J","x":98,"y":0.1,"lo":0.0,"hi":0.2},{"p":"AS","s":"J","x":100,"y":0.01,"lo":-0.09,"hi":0.11},
{"p":"AS","s":"D","x":0,"y":0.07,"lo":0.01,"hi":0.13},{"p":"AS","s":"D","x":2,"y":0.06,"lo":0.0,"hi":0.12},{"p":"AS","s":"D","x":4,"y":-0.02,"lo":-0.08,"hi":0.04},{"p":"AS","s":"D","x":6,"y":-0.13,"lo":-0.19,"hi":-0.07},{"p":"AS","s":"D","x":8,"y":-0.22,"lo":-0.29,"hi":-0.15},{"p":"AS","s":"D","x":10,"y":-0.27,"lo":-0.34,"hi":-0.2},{"p":"AS","s":"D","x":12,"y":-0.29,"lo":-0.36,"hi":-0.22},{"p":"AS","s":"D","x":14,"y":-0.26,"lo":-0.34,"hi":-0.18},{"p":"AS","s":"D","x":17,"y":-0.18,"lo":-0.26,"hi":-0.1},{"p":"AS","s":"D","x":20,"y":-0.09,"lo":-0.18,"hi":0.0},{"p":"AS","s":"D","x":25,"y":0.03,"lo":-0.07,"hi":0.13},{"p":"AS","s":"D","x":30,"y":0.12,"lo":0.01,"hi":0.23},{"p":"AS","s":"D","x":35,"y":0.21,"lo":0.09,"hi":0.33},{"p":"AS","s":"D","x":40,"y":0.3,"lo":0.18,"hi":0.42},{"p":"AS","s":"D","x":45,"y":0.38,"lo":0.26,"hi":0.5},{"p":"AS","s":"D","x":50,"y":0.47,"lo":0.36,"hi":0.58},{"p":"AS","s":"D","x":55,"y":0.59,"lo":0.49,"hi":0.69},{"p":"AS","s":"D","x":60,"y":0.73,"lo":0.63,"hi":0.83},{"p":"AS","s":"D","x":65,"y":0.9,"lo":0.79,"hi":1.01},{"p":"AS","s":"D","x":70,"y":1.09,"lo":0.97,"hi":1.21},{"p":"AS","s":"D","x":75,"y":1.28,"lo":1.15,"hi":1.41},{"p":"AS","s":"D","x":80,"y":1.41,"lo":1.26,"hi":1.56},{"p":"AS","s":"D","x":82,"y":1.4,"lo":1.25,"hi":1.55},{"p":"AS","s":"D","x":85,"y":1.27,"lo":1.12,"hi":1.42},{"p":"AS","s":"D","x":88,"y":1.01,"lo":0.87,"hi":1.15},{"p":"AS","s":"D","x":90,"y":0.77,"lo":0.64,"hi":0.9},{"p":"AS","s":"D","x":92,"y":0.53,"lo":0.41,"hi":0.65},{"p":"AS","s":"D","x":94,"y":0.34,"lo":0.23,"hi":0.45},{"p":"AS","s":"D","x":96,"y":0.21,"lo":0.11,"hi":0.31},{"p":"AS","s":"D","x":98,"y":0.1,"lo":0.0,"hi":0.2},{"p":"AS","s":"D","x":100,"y":0.01,"lo":-0.09,"hi":0.11},
{"p":"AS","s":"P","x":0,"y":0.03,"lo":-0.03,"hi":0.09},{"p":"AS","s":"P","x":2,"y":0.03,"lo":-0.03,"hi":0.09},{"p":"AS","s":"P","x":4,"y":-0.04,"lo":-0.1,"hi":0.02},{"p":"AS","s":"P","x":6,"y":-0.13,"lo":-0.19,"hi":-0.07},{"p":"AS","s":"P","x":8,"y":-0.2,"lo":-0.26,"hi":-0.14},{"p":"AS","s":"P","x":10,"y":-0.24,"lo":-0.3,"hi":-0.18},{"p":"AS","s":"P","x":12,"y":-0.24,"lo":-0.3,"hi":-0.18},{"p":"AS","s":"P","x":14,"y":-0.21,"lo":-0.28,"hi":-0.14},{"p":"AS","s":"P","x":17,"y":-0.12,"lo":-0.2,"hi":-0.04},{"p":"AS","s":"P","x":20,"y":-0.01,"lo":-0.11,"hi":0.09},{"p":"AS","s":"P","x":23,"y":0.08,"lo":-0.04,"hi":0.2},{"p":"AS","s":"P","x":25,"y":0.12,"lo":-0.01,"hi":0.25},{"p":"AS","s":"P","x":28,"y":0.16,"lo":0.03,"hi":0.29},{"p":"AS","s":"P","x":30,"y":0.18,"lo":0.05,"hi":0.31},{"p":"AS","s":"P","x":35,"y":0.25,"lo":0.13,"hi":0.37},{"p":"AS","s":"P","x":40,"y":0.33,"lo":0.21,"hi":0.45},{"p":"AS","s":"P","x":45,"y":0.4,"lo":0.29,"hi":0.51},{"p":"AS","s":"P","x":50,"y":0.48,"lo":0.37,"hi":0.59},{"p":"AS","s":"P","x":55,"y":0.59,"lo":0.49,"hi":0.69},{"p":"AS","s":"P","x":60,"y":0.73,"lo":0.63,"hi":0.83},{"p":"AS","s":"P","x":65,"y":0.9,"lo":0.79,"hi":1.01},{"p":"AS","s":"P","x":70,"y":1.09,"lo":0.97,"hi":1.21},{"p":"AS","s":"P","x":75,"y":1.28,"lo":1.15,"hi":1.41},{"p":"AS","s":"P","x":80,"y":1.41,"lo":1.26,"hi":1.56},{"p":"AS","s":"P","x":82,"y":1.4,"lo":1.25,"hi":1.55},{"p":"AS","s":"P","x":85,"y":1.27,"lo":1.12,"hi":1.42},{"p":"AS","s":"P","x":88,"y":1.01,"lo":0.87,"hi":1.15},{"p":"AS","s":"P","x":90,"y":0.77,"lo":0.64,"hi":0.9},{"p":"AS","s":"P","x":92,"y":0.53,"lo":0.41,"hi":0.65},{"p":"AS","s":"P","x":94,"y":0.33,"lo":0.22,"hi":0.44},{"p":"AS","s":"P","x":96,"y":0.2,"lo":0.1,"hi":0.3},{"p":"AS","s":"P","x":98,"y":0.08,"lo":-0.02,"hi":0.18},{"p":"AS","s":"P","x":100,"y":-0.01,"lo":-0.11,"hi":0.09},

{"p":"AF","s":"J","x":0,"y":0.0,"lo":-0.01,"hi":0.01},{"p":"AF","s":"J","x":5,"y":-0.01,"lo":-0.04,"hi":0.02},{"p":"AF","s":"J","x":8,"y":-0.02,"lo":-0.07,"hi":0.03},{"p":"AF","s":"J","x":11,"y":-0.01,"lo":-0.07,"hi":0.05},{"p":"AF","s":"J","x":14,"y":0.03,"lo":-0.04,"hi":0.1},{"p":"AF","s":"J","x":16,"y":0.02,"lo":-0.06,"hi":0.1},{"p":"AF","s":"J","x":20,"y":0.02,"lo":-0.06,"hi":0.1},{"p":"AF","s":"J","x":30,"y":-0.01,"lo":-0.08,"hi":0.06},{"p":"AF","s":"J","x":40,"y":-0.03,"lo":-0.09,"hi":0.03},{"p":"AF","s":"J","x":50,"y":-0.04,"lo":-0.09,"hi":0.01},{"p":"AF","s":"J","x":60,"y":-0.04,"lo":-0.09,"hi":0.01},{"p":"AF","s":"J","x":70,"y":-0.04,"lo":-0.1,"hi":0.02},{"p":"AF","s":"J","x":78,"y":-0.01,"lo":-0.08,"hi":0.06},{"p":"AF","s":"J","x":84,"y":0.01,"lo":-0.06,"hi":0.08},{"p":"AF","s":"J","x":88,"y":0.01,"lo":-0.05,"hi":0.07},{"p":"AF","s":"J","x":92,"y":-0.01,"lo":-0.05,"hi":0.03},{"p":"AF","s":"J","x":100,"y":0.0,"lo":-0.01,"hi":0.01},
{"p":"AF","s":"D","x":0,"y":0.0,"lo":-0.01,"hi":0.01},{"p":"AF","s":"D","x":5,"y":-0.01,"lo":-0.04,"hi":0.02},{"p":"AF","s":"D","x":8,"y":-0.03,"lo":-0.08,"hi":0.02},{"p":"AF","s":"D","x":11,"y":-0.01,"lo":-0.07,"hi":0.05},{"p":"AF","s":"D","x":14,"y":0.03,"lo":-0.04,"hi":0.1},{"p":"AF","s":"D","x":16,"y":0.02,"lo":-0.06,"hi":0.1},{"p":"AF","s":"D","x":20,"y":0.02,"lo":-0.06,"hi":0.1},{"p":"AF","s":"D","x":30,"y":-0.01,"lo":-0.08,"hi":0.06},{"p":"AF","s":"D","x":40,"y":-0.03,"lo":-0.09,"hi":0.03},{"p":"AF","s":"D","x":50,"y":-0.04,"lo":-0.09,"hi":0.01},{"p":"AF","s":"D","x":60,"y":-0.04,"lo":-0.09,"hi":0.01},{"p":"AF","s":"D","x":70,"y":-0.04,"lo":-0.1,"hi":0.02},{"p":"AF","s":"D","x":78,"y":-0.01,"lo":-0.08,"hi":0.06},{"p":"AF","s":"D","x":84,"y":0.02,"lo":-0.05,"hi":0.09},{"p":"AF","s":"D","x":88,"y":0.01,"lo":-0.05,"hi":0.07},{"p":"AF","s":"D","x":92,"y":-0.01,"lo":-0.05,"hi":0.03},{"p":"AF","s":"D","x":100,"y":0.0,"lo":-0.01,"hi":0.01},
{"p":"AF","s":"P","x":0,"y":0.0,"lo":-0.01,"hi":0.01},{"p":"AF","s":"P","x":5,"y":0.0,"lo":-0.03,"hi":0.03},{"p":"AF","s":"P","x":8,"y":-0.01,"lo":-0.06,"hi":0.04},{"p":"AF","s":"P","x":11,"y":0.0,"lo":-0.06,"hi":0.06},{"p":"AF","s":"P","x":14,"y":0.03,"lo":-0.04,"hi":0.1},{"p":"AF","s":"P","x":16,"y":0.02,"lo":-0.06,"hi":0.1},{"p":"AF","s":"P","x":20,"y":0.02,"lo":-0.06,"hi":0.1},{"p":"AF","s":"P","x":30,"y":0.0,"lo":-0.07,"hi":0.07},{"p":"AF","s":"P","x":40,"y":-0.02,"lo":-0.08,"hi":0.04},{"p":"AF","s":"P","x":50,"y":-0.04,"lo":-0.09,"hi":0.01},{"p":"AF","s":"P","x":60,"y":-0.04,"lo":-0.09,"hi":0.01},{"p":"AF","s":"P","x":70,"y":-0.04,"lo":-0.1,"hi":0.02},{"p":"AF","s":"P","x":78,"y":-0.02,"lo":-0.09,"hi":0.05},{"p":"AF","s":"P","x":84,"y":0.0,"lo":-0.07,"hi":0.07},{"p":"AF","s":"P","x":88,"y":0.0,"lo":-0.06,"hi":0.06},{"p":"AF","s":"P","x":92,"y":-0.01,"lo":-0.05,"hi":0.03},{"p":"AF","s":"P","x":100,"y":0.0,"lo":-0.01,"hi":0.01},

{"p":"AT","s":"J","x":0,"y":-0.01,"lo":-0.03,"hi":0.01},{"p":"AT","s":"J","x":5,"y":-0.01,"lo":-0.03,"hi":0.01},{"p":"AT","s":"J","x":8,"y":0.0,"lo":-0.02,"hi":0.02},{"p":"AT","s":"J","x":12,"y":-0.01,"lo":-0.03,"hi":0.01},{"p":"AT","s":"J","x":20,"y":-0.03,"lo":-0.06,"hi":0.0},{"p":"AT","s":"J","x":30,"y":-0.02,"lo":-0.05,"hi":0.01},{"p":"AT","s":"J","x":40,"y":0.03,"lo":0.0,"hi":0.06},{"p":"AT","s":"J","x":50,"y":0.07,"lo":0.03,"hi":0.11},{"p":"AT","s":"J","x":60,"y":0.1,"lo":0.05,"hi":0.15},{"p":"AT","s":"J","x":65,"y":0.12,"lo":0.06,"hi":0.18},{"p":"AT","s":"J","x":70,"y":0.13,"lo":0.07,"hi":0.19},{"p":"AT","s":"J","x":75,"y":0.13,"lo":0.07,"hi":0.19},{"p":"AT","s":"J","x":80,"y":0.12,"lo":0.06,"hi":0.18},{"p":"AT","s":"J","x":85,"y":0.08,"lo":0.03,"hi":0.13},{"p":"AT","s":"J","x":90,"y":0.04,"lo":0.0,"hi":0.08},{"p":"AT","s":"J","x":95,"y":0.02,"lo":0.0,"hi":0.04},{"p":"AT","s":"J","x":100,"y":0.01,"lo":-0.01,"hi":0.03},
{"p":"AT","s":"D","x":0,"y":-0.01,"lo":-0.03,"hi":0.01},{"p":"AT","s":"D","x":5,"y":-0.01,"lo":-0.03,"hi":0.01},{"p":"AT","s":"D","x":8,"y":0.0,"lo":-0.02,"hi":0.02},{"p":"AT","s":"D","x":12,"y":-0.01,"lo":-0.03,"hi":0.01},{"p":"AT","s":"D","x":20,"y":-0.03,"lo":-0.05,"hi":-0.01},{"p":"AT","s":"D","x":30,"y":-0.02,"lo":-0.04,"hi":0.0},{"p":"AT","s":"D","x":40,"y":0.03,"lo":0.01,"hi":0.05},{"p":"AT","s":"D","x":50,"y":0.09,"lo":0.06,"hi":0.12},{"p":"AT","s":"D","x":60,"y":0.15,"lo":0.11,"hi":0.19},{"p":"AT","s":"D","x":65,"y":0.2,"lo":0.15,"hi":0.25},{"p":"AT","s":"D","x":70,"y":0.23,"lo":0.17,"hi":0.29},{"p":"AT","s":"D","x":75,"y":0.24,"lo":0.18,"hi":0.3},{"p":"AT","s":"D","x":80,"y":0.22,"lo":0.16,"hi":0.28},{"p":"AT","s":"D","x":85,"y":0.16,"lo":0.11,"hi":0.21},{"p":"AT","s":"D","x":90,"y":0.08,"lo":0.04,"hi":0.12},{"p":"AT","s":"D","x":95,"y":0.03,"lo":0.01,"hi":0.05},{"p":"AT","s":"D","x":100,"y":0.01,"lo":-0.01,"hi":0.03},
{"p":"AT","s":"P","x":0,"y":-0.01,"lo":-0.03,"hi":0.01},{"p":"AT","s":"P","x":5,"y":0.0,"lo":-0.02,"hi":0.02},{"p":"AT","s":"P","x":8,"y":0.03,"lo":0.01,"hi":0.05},{"p":"AT","s":"P","x":10,"y":0.02,"lo":0.0,"hi":0.04},{"p":"AT","s":"P","x":15,"y":-0.01,"lo":-0.03,"hi":0.01},{"p":"AT","s":"P","x":20,"y":-0.02,"lo":-0.04,"hi":0.0},{"p":"AT","s":"P","x":30,"y":-0.02,"lo":-0.04,"hi":0.0},{"p":"AT","s":"P","x":40,"y":0.03,"lo":0.01,"hi":0.05},{"p":"AT","s":"P","x":50,"y":0.08,"lo":0.05,"hi":0.11},{"p":"AT","s":"P","x":60,"y":0.13,"lo":0.1,"hi":0.16},{"p":"AT","s":"P","x":70,"y":0.17,"lo":0.14,"hi":0.2},{"p":"AT","s":"P","x":75,"y":0.18,"lo":0.15,"hi":0.21},{"p":"AT","s":"P","x":80,"y":0.17,"lo":0.14,"hi":0.2},{"p":"AT","s":"P","x":85,"y":0.12,"lo":0.09,"hi":0.15},{"p":"AT","s":"P","x":90,"y":0.06,"lo":0.04,"hi":0.08},{"p":"AT","s":"P","x":95,"y":0.03,"lo":0.01,"hi":0.05},{"p":"AT","s":"P","x":100,"y":0.01,"lo":-0.01,"hi":0.03}
],
"b": [
{"p":"HS","s":"S1","x":0.8,"x2":2.9,"y":-1.74},{"p":"HS","s":"S1","x":7.1,"x2":10,"y":-1.74},{"p":"HS","s":"S1","x":13.1,"x2":15.1,"y":-1.74},{"p":"HS","s":"S1","x":20.1,"x2":27.1,"y":-1.74},{"p":"HS","s":"S1","x":93.85,"x2":94.15,"y":-1.74},
{"p":"HF","s":"S1","x":2.9,"x2":10.6,"y":-1.74},{"p":"HF","s":"S2","x":1.1,"x2":16.5,"y":-2.32},{"p":"HF","s":"S2","x":91.1,"x2":100,"y":-2.32},
{"p":"HT","s":"S1","x":5,"x2":6.7,"y":-1.74},{"p":"HT","s":"S1","x":20.4,"x2":31.8,"y":-1.74},{"p":"HT","s":"S1","x":36.7,"x2":52,"y":-1.74},{"p":"HT","s":"S1","x":70.2,"x2":90.3,"y":-1.74},
{"p":"KS","s":"S1","x":0.3,"x2":2.4,"y":-1.93},{"p":"KS","s":"S1","x":8.3,"x2":10.4,"y":-1.93},{"p":"KS","s":"S1","x":14.1,"x2":42.9,"y":-1.93},{"p":"KS","s":"S1","x":78,"x2":87.1,"y":-1.93},{"p":"KS","s":"S2","x":1.7,"x2":4.7,"y":-2.46},{"p":"KS","s":"S2","x":16,"x2":21.2,"y":-2.46},{"p":"KS","s":"S2","x":30.3,"x2":38.6,"y":-2.46},{"p":"KS","s":"S2","x":50.4,"x2":70.1,"y":-2.46},
{"p":"KF","s":"S1","x":7.6,"x2":11.3,"y":-1.93},{"p":"KF","s":"S1","x":15.4,"x2":40.6,"y":-1.93},{"p":"KF","s":"S1","x":96.8,"x2":100,"y":-1.93},{"p":"KF","s":"S2","x":0.4,"x2":8.3,"y":-2.46},{"p":"KF","s":"S2","x":17.7,"x2":19.7,"y":-2.46},{"p":"KF","s":"S2","x":59.6,"x2":62.9,"y":-2.46},{"p":"KF","s":"S2","x":95,"x2":100,"y":-2.46},
{"p":"KT","s":"S1","x":4.5,"x2":9.9,"y":-1.93},{"p":"KT","s":"S1","x":17.4,"x2":53.8,"y":-1.93},
{"p":"AS","s":"S1","x":13.3,"x2":43.2,"y":-0.48},{"p":"AS","s":"S2","x":6,"x2":7.1,"y":-0.737},{"p":"AS","s":"S2","x":86,"x2":97.2,"y":-0.737},
{"p":"AF","s":"S1","x":5.6,"x2":8.6,"y":-0.48},{"p":"AF","s":"S1","x":20.9,"x2":26.3,"y":-0.48},{"p":"AF","s":"S1","x":78.1,"x2":96.1,"y":-0.48},
{"p":"AT","s":"S1","x":4.7,"x2":13.1,"y":-0.48},{"p":"AT","s":"S1","x":16.7,"x2":28.7,"y":-0.48},{"p":"AT","s":"S1","x":74.9,"x2":80,"y":-0.48},{"p":"AT","s":"S2","x":5.5,"x2":7.4,"y":-0.737},{"p":"AT","s":"S2","x":42.2,"x2":96,"y":-0.737}
],
"t": [
{"p":"HS","s":"S1","x":23.6,"y":-1.74,"l":"p < 0.001"},
{"p":"HF","s":"S1","x":6.75,"y":-1.74,"l":"p < 0.001"},{"p":"HF","s":"S2","x":8.8,"y":-2.32,"l":"p < 0.001"},
{"p":"HT","s":"S1","x":26.1,"y":-1.74,"l":"p < 0.001"},{"p":"HT","s":"S1","x":44.35,"y":-1.74,"l":"p < 0.001"},{"p":"HT","s":"S1","x":80.25,"y":-1.74,"l":"p < 0.001"},
{"p":"KS","s":"S1","x":28.5,"y":-1.93,"l":"p < 0.001"},{"p":"KS","s":"S1","x":82.55,"y":-1.93,"l":"p < 0.001"},{"p":"KS","s":"S2","x":60.25,"y":-2.46,"l":"p < 0.001"},
{"p":"KF","s":"S1","x":28,"y":-1.93,"l":"p < 0.001"},
{"p":"KT","s":"S1","x":35.6,"y":-1.93,"l":"p < 0.001"},
{"p":"AS","s":"S1","x":28.25,"y":-0.48,"l":"p < 0.001"},{"p":"AS","s":"S2","x":91.6,"y":-0.737,"l":"p = 0.002"},
{"p":"AF","s":"S1","x":87.1,"y":-0.48,"l":"p = 0.001"},
{"p":"AT","s":"S1","x":22.7,"y":-0.48,"l":"p < 0.001"},{"p":"AT","s":"S2","x":69.1,"y":-0.737,"l":"p < 0.001"}
],
"wm": [{"x": 27.7, "y": 0.44, "w": "ARTICLE IN PRESS"}]
},
"columns": 3,
"spacing": {"row": 17, "column": 53},
"bounds": "flush",
"concat": [
{"width": 353, "height": 245,
 "title": {"text": "Sagittal", "frame": "group", "anchor": "middle", "fontSize": 17.5, "fontWeight": "bold", "font": "DejaVu Sans", "offset": 3, "color": "#000000"},
 "encoding": {"x": {"field": "x", "type": "quantitative", "scale": {"domain": [-5, 105], "nice": false, "zero": false}, "axis": {"values": [0,20,40,60,80,100], "labels": false, "title": null}},
  "y": {"field": "y", "type": "quantitative", "scale": {"domain": [-2.48, 3.5], "nice": false, "zero": false}, "axis": {"values": [-2,-1,0,1,2,3], "title": ["Hip", "Moment (Nm/kg)"]}}},
 "layer": [
  {"data": {"name": "c"}, "transform": [{"filter": "datum.p=='HS'"}], "mark": {"type": "area", "interpolate": "monotone", "opacity": 0.2}, "encoding": {"y": {"field": "lo", "type": "quantitative", "scale": {"domain": [-2.48, 3.5], "nice": false, "zero": false}, "stack": null}, "y2": {"field": "hi"}, "fill": {"field": "s", "type": "nominal", "scale": {"domain": ["J","P","D","S1","S2"], "range": ["#9c4ab4","#2ca02c","#1f77b4","#000000","#888888"]}, "legend": null}}},
  {"data": {"name": "c"}, "transform": [{"filter": "datum.p=='HS'"}], "mark": {"type": "line", "interpolate": "monotone", "strokeWidth": 2}, "encoding": {"color": {"field": "s", "type": "nominal", "scale": {"domain": ["J","D","P","_","S1","S2"], "range": ["#9c4ab4","#1f77b4","#2ca02c","rgba(0,0,0,0)","#000000","#808080"]},
    "legend": {"title": null, "orient": "none", "legendX": 191, "legendY": -210, "columns": 3, "symbolType": "M-1.85,0L1.85,0", "symbolSize": 324, "symbolOffset": 10.5, "symbolStrokeWidth": {"expr": "datum.value=='S1'||datum.value=='S2' ? 7 : 2"}, "labelFont": "DejaVu Sans", "labelFontSize": 15.4, "labelColor": "#000000", "labelLimit": 400, "labelOffset": 29, "columnPadding": 25, "rowPadding": 0, "padding": 4, "strokeColor": "#cccccc", "fillColor": "#ffffff", "cornerRadius": 3,
     "labelExpr": "datum.label=='J'?'CGM2.3 JCS':datum.label=='D'?'CGM2.3 DISTAL':datum.label=='P'?'PiG Distal':datum.label=='S1'?'SPM paired t-test: JCS vs PiG Distal':datum.label=='S2'?'SPM paired t-test: JCS vs CGM2.3 DISTAL':''"}}}},
  {"data": {"name": "b"}, "transform": [{"filter": "datum.p=='HS'"}], "mark": {"type": "rule", "strokeWidth": 7, "strokeCap": "butt"}, "encoding": {"x2": {"field": "x2"}, "stroke": {"field": "s", "type": "nominal", "scale": {"domain": ["S1","S2"], "range": ["#000000","#808080"]}, "legend": null}}},
  {"data": {"name": "t"}, "transform": [{"filter": "datum.p=='HS'"}], "mark": {"type": "text", "fontSize": 10.5, "dy": -10, "baseline": "middle", "font": "DejaVu Sans"}, "encoding": {"text": {"field": "l"}, "fill": {"field": "s", "type": "nominal", "legend": null}}}
 ]},
{"width": 353, "height": 245,
 "title": {"text": "Frontal", "frame": "group", "anchor": "middle", "fontSize": 17.5, "fontWeight": "bold", "font": "DejaVu Sans", "offset": 3, "color": "#000000"},
 "encoding": {"x": {"field": "x", "type": "quantitative", "scale": {"domain": [-5, 105], "nice": false, "zero": false}, "axis": {"values": [0,20,40,60,80,100], "labels": false, "title": null}},
  "y": {"field": "y", "type": "quantitative", "scale": {"domain": [-2.48, 3.5], "nice": false, "zero": false}, "axis": {"values": [-2,-1,0,1,2,3], "title": null}}},
 "layer": [
  {"data": {"name": "c"}, "transform": [{"filter": "datum.p=='HF'"}], "mark": {"type": "area", "interpolate": "monotone", "opacity": 0.2}, "encoding": {"y": {"field": "lo", "type": "quantitative", "scale": {"domain": [-2.48, 3.5], "nice": false, "zero": false}, "stack": null}, "y2": {"field": "hi"}, "fill": {"field": "s", "type": "nominal", "legend": null}}},
  {"data": {"name": "c"}, "transform": [{"filter": "datum.p=='HF'"}], "mark": {"type": "line", "interpolate": "monotone", "strokeWidth": 2}, "encoding": {"color": {"field": "s", "type": "nominal"}}},
  {"data": {"name": "b"}, "transform": [{"filter": "datum.p=='HF'"}], "mark": {"type": "rule", "strokeWidth": 7, "strokeCap": "butt"}, "encoding": {"x2": {"field": "x2"}, "stroke": {"field": "s", "type": "nominal", "legend": null}}},
  {"data": {"name": "t"}, "transform": [{"filter": "datum.p=='HF'"}], "mark": {"type": "text", "fontSize": 10.5, "dy": -10, "baseline": "middle", "font": "DejaVu Sans"}, "encoding": {"text": {"field": "l"}, "fill": {"field": "s", "type": "nominal", "legend": null}}}
 ]},
{"width": 353, "height": 245,
 "title": {"text": "Transverse", "frame": "group", "anchor": "middle", "fontSize": 17.5, "fontWeight": "bold", "font": "DejaVu Sans", "offset": 3, "color": "#000000"},
 "encoding": {"x": {"field": "x", "type": "quantitative", "scale": {"domain": [-5, 105], "nice": false, "zero": false}, "axis": {"values": [0,20,40,60,80,100], "labels": false, "title": null}},
  "y": {"field": "y", "type": "quantitative", "scale": {"domain": [-2.48, 3.5], "nice": false, "zero": false}, "axis": {"values": [-2,-1,0,1,2,3], "title": null}}},
 "layer": [
  {"data": {"name": "c"}, "transform": [{"filter": "datum.p=='HT'"}], "mark": {"type": "area", "interpolate": "monotone", "opacity": 0.2}, "encoding": {"y": {"field": "lo", "type": "quantitative", "scale": {"domain": [-2.48, 3.5], "nice": false, "zero": false}, "stack": null}, "y2": {"field": "hi"}, "fill": {"field": "s", "type": "nominal", "legend": null}}},
  {"data": {"name": "c"}, "transform": [{"filter": "datum.p=='HT'"}], "mark": {"type": "line", "interpolate": "monotone", "strokeWidth": 2}, "encoding": {"color": {"field": "s", "type": "nominal"}}},
  {"data": {"name": "b"}, "transform": [{"filter": "datum.p=='HT'"}], "mark": {"type": "rule", "strokeWidth": 7, "strokeCap": "butt"}, "encoding": {"x2": {"field": "x2"}, "stroke": {"field": "s", "type": "nominal", "legend": null}}},
  {"data": {"name": "t"}, "transform": [{"filter": "datum.p=='HT'"}], "mark": {"type": "text", "fontSize": 10.5, "dy": -10, "baseline": "middle", "font": "DejaVu Sans"}, "encoding": {"text": {"field": "l"}, "fill": {"field": "s", "type": "nominal", "legend": null}}}
 ]},
{"width": 353, "height": 245,
 "encoding": {"x": {"field": "x", "type": "quantitative", "scale": {"domain": [-5, 105], "nice": false, "zero": false}, "axis": {"values": [0,20,40,60,80,100], "labels": false, "title": null}},
  "y": {"field": "y", "type": "quantitative", "scale": {"domain": [-2.62, 3.0], "nice": false, "zero": false}, "axis": {"values": [-2,-1,0,1,2], "title": ["Knee", "Moment (Nm/kg)"]}}},
 "layer": [
  {"data": {"name": "c"}, "transform": [{"filter": "datum.p=='KS'"}], "mark": {"type": "area", "interpolate": "monotone", "opacity": 0.2}, "encoding": {"y": {"field": "lo", "type": "quantitative", "scale": {"domain": [-2.62, 3.0], "nice": false, "zero": false}, "stack": null}, "y2": {"field": "hi"}, "fill": {"field": "s", "type": "nominal", "legend": null}}},
  {"data": {"name": "c"}, "transform": [{"filter": "datum.p=='KS'"}], "mark": {"type": "line", "interpolate": "monotone", "strokeWidth": 2}, "encoding": {"color": {"field": "s", "type": "nominal"}}},
  {"data": {"name": "b"}, "transform": [{"filter": "datum.p=='KS'"}], "mark": {"type": "rule", "strokeWidth": 7, "strokeCap": "butt"}, "encoding": {"x2": {"field": "x2"}, "stroke": {"field": "s", "type": "nominal", "legend": null}}},
  {"data": {"name": "t"}, "transform": [{"filter": "datum.p=='KS'"}], "mark": {"type": "text", "fontSize": 10.5, "dy": -10, "baseline": "middle", "font": "DejaVu Sans"}, "encoding": {"text": {"field": "l"}, "fill": {"field": "s", "type": "nominal", "legend": null}}}
 ]},
{"width": 353, "height": 245,
 "encoding": {"x": {"field": "x", "type": "quantitative", "scale": {"domain": [-5, 105], "nice": false, "zero": false}, "axis": {"values": [0,20,40,60,80,100], "labels": false, "title": null}},
  "y": {"field": "y", "type": "quantitative", "scale": {"domain": [-2.62, 3.0], "nice": false, "zero": false}, "axis": {"values": [-2,-1,0,1,2], "title": null}}},
 "layer": [
  {"data": {"name": "c"}, "transform": [{"filter": "datum.p=='KF'"}], "mark": {"type": "area", "interpolate": "monotone", "opacity": 0.2}, "encoding": {"y": {"field": "lo", "type": "quantitative", "scale": {"domain": [-2.62, 3.0], "nice": false, "zero": false}, "stack": null}, "y2": {"field": "hi"}, "fill": {"field": "s", "type": "nominal", "legend": null}}},
  {"data": {"name": "c"}, "transform": [{"filter": "datum.p=='KF'"}], "mark": {"type": "line", "interpolate": "monotone", "strokeWidth": 2}, "encoding": {"color": {"field": "s", "type": "nominal"}}},
  {"data": {"name": "b"}, "transform": [{"filter": "datum.p=='KF'"}], "mark": {"type": "rule", "strokeWidth": 7, "strokeCap": "butt"}, "encoding": {"x2": {"field": "x2"}, "stroke": {"field": "s", "type": "nominal", "legend": null}}},
  {"data": {"name": "t"}, "transform": [{"filter": "datum.p=='KF'"}], "mark": {"type": "text", "fontSize": 10.5, "dy": -10, "baseline": "middle", "font": "DejaVu Sans"}, "encoding": {"text": {"field": "l"}, "fill": {"field": "s", "type": "nominal", "legend": null}}}
 ]},
{"width": 353, "height": 245,
 "encoding": {"x": {"field": "x", "type": "quantitative", "scale": {"domain": [-5, 105], "nice": false, "zero": false}, "axis": {"values": [0,20,40,60,80,100], "labels": false, "title": null}},
  "y": {"field": "y", "type": "quantitative", "scale": {"domain": [-2.62, 3.0], "nice": false, "zero": false}, "axis": {"values": [-2,-1,0,1,2], "title": null}}},
 "layer": [
  {"data": {"name": "c"}, "transform": [{"filter": "datum.p=='KT'"}], "mark": {"type": "area", "interpolate": "monotone", "opacity": 0.2}, "encoding": {"y": {"field": "lo", "type": "quantitative", "scale": {"domain": [-2.62, 3.0], "nice": false, "zero": false}, "stack": null}, "y2": {"field": "hi"}, "fill": {"field": "s", "type": "nominal", "legend": null}}},
  {"data": {"name": "c"}, "transform": [{"filter": "datum.p=='KT'"}], "mark": {"type": "line", "interpolate": "monotone", "strokeWidth": 2}, "encoding": {"color": {"field": "s", "type": "nominal"}}},
  {"data": {"name": "b"}, "transform": [{"filter": "datum.p=='KT'"}], "mark": {"type": "rule", "strokeWidth": 7, "strokeCap": "butt"}, "encoding": {"x2": {"field": "x2"}, "stroke": {"field": "s", "type": "nominal", "legend": null}}},
  {"data": {"name": "t"}, "transform": [{"filter": "datum.p=='KT'"}], "mark": {"type": "text", "fontSize": 10.5, "dy": -10, "baseline": "middle", "font": "DejaVu Sans"}, "encoding": {"text": {"field": "l"}, "fill": {"field": "s", "type": "nominal", "legend": null}}}
 ]},
{"width": 353, "height": 245,
 "encoding": {"x": {"field": "x", "type": "quantitative", "scale": {"domain": [-5, 105], "nice": false, "zero": false}, "axis": {"values": [0,20,40,60,80,100], "title": "Contact phase (%)"}},
  "y": {"field": "y", "type": "quantitative", "scale": {"domain": [-0.82, 1.9], "nice": false, "zero": false}, "axis": {"values": [-0.5,0,0.5,1,1.5], "format": ".1f", "title": ["Ankle", "Moment (Nm/kg)"]}}},
 "layer": [
  {"data": {"name": "c"}, "transform": [{"filter": "datum.p=='AS'"}], "mark": {"type": "area", "interpolate": "monotone", "opacity": 0.2}, "encoding": {"y": {"field": "lo", "type": "quantitative", "scale": {"domain": [-0.82, 1.9], "nice": false, "zero": false}, "stack": null}, "y2": {"field": "hi"}, "fill": {"field": "s", "type": "nominal", "legend": null}}},
  {"data": {"name": "c"}, "transform": [{"filter": "datum.p=='AS'"}], "mark": {"type": "line", "interpolate": "monotone", "strokeWidth": 2}, "encoding": {"color": {"field": "s", "type": "nominal"}}},
  {"data": {"name": "b"}, "transform": [{"filter": "datum.p=='AS'"}], "mark": {"type": "rule", "strokeWidth": 7, "strokeCap": "butt"}, "encoding": {"x2": {"field": "x2"}, "stroke": {"field": "s", "type": "nominal", "legend": null}}},
  {"data": {"name": "t"}, "transform": [{"filter": "datum.p=='AS'"}], "mark": {"type": "text", "fontSize": 10.5, "dy": -10, "baseline": "middle", "font": "DejaVu Sans"}, "encoding": {"text": {"field": "l"}, "fill": {"field": "s", "type": "nominal", "legend": null}}}
 ]},
{"width": 353, "height": 245,
 "encoding": {"x": {"field": "x", "type": "quantitative", "scale": {"domain": [-5, 105], "nice": false, "zero": false}, "axis": {"values": [0,20,40,60,80,100], "title": "Contact phase (%)"}},
  "y": {"field": "y", "type": "quantitative", "scale": {"domain": [-0.82, 1.9], "nice": false, "zero": false}, "axis": {"values": [-0.5,0,0.5,1,1.5], "format": ".1f", "title": null}}},
 "layer": [
  {"data": {"name": "c"}, "transform": [{"filter": "datum.p=='AF'"}], "mark": {"type": "area", "interpolate": "monotone", "opacity": 0.2}, "encoding": {"y": {"field": "lo", "type": "quantitative", "scale": {"domain": [-0.82, 1.9], "nice": false, "zero": false}, "stack": null}, "y2": {"field": "hi"}, "fill": {"field": "s", "type": "nominal", "legend": null}}},
  {"data": {"name": "c"}, "transform": [{"filter": "datum.p=='AF'"}], "mark": {"type": "line", "interpolate": "monotone", "strokeWidth": 2}, "encoding": {"color": {"field": "s", "type": "nominal"}}},
  {"data": {"name": "b"}, "transform": [{"filter": "datum.p=='AF'"}], "mark": {"type": "rule", "strokeWidth": 7, "strokeCap": "butt"}, "encoding": {"x2": {"field": "x2"}, "stroke": {"field": "s", "type": "nominal", "legend": null}}},
  {"data": {"name": "t"}, "transform": [{"filter": "datum.p=='AF'"}], "mark": {"type": "text", "fontSize": 10.5, "dy": -10, "baseline": "middle", "font": "DejaVu Sans"}, "encoding": {"text": {"field": "l"}, "fill": {"field": "s", "type": "nominal", "legend": null}}},
  {"data": {"name": "wm"}, "mark": {"type": "text", "angle": -37, "fontSize": 82, "font": "Liberation Sans", "fill": "#c4c4c4", "opacity": 0.7, "align": "center", "baseline": "middle"}, "encoding": {"text": {"field": "w"}}}
 ]},
{"width": 353, "height": 245,
 "encoding": {"x": {"field": "x", "type": "quantitative", "scale": {"domain": [-5, 105], "nice": false, "zero": false}, "axis": {"values": [0,20,40,60,80,100], "title": "Contact phase (%)"}},
  "y": {"field": "y", "type": "quantitative", "scale": {"domain": [-0.82, 1.9], "nice": false, "zero": false}, "axis": {"values": [-0.5,0,0.5,1,1.5], "format": ".1f", "title": null}}},
 "layer": [
  {"data": {"name": "c"}, "transform": [{"filter": "datum.p=='AT'"}], "mark": {"type": "area", "interpolate": "monotone", "opacity": 0.2}, "encoding": {"y": {"field": "lo", "type": "quantitative", "scale": {"domain": [-0.82, 1.9], "nice": false, "zero": false}, "stack": null}, "y2": {"field": "hi"}, "fill": {"field": "s", "type": "nominal", "legend": null}}},
  {"data": {"name": "c"}, "transform": [{"filter": "datum.p=='AT'"}], "mark": {"type": "line", "interpolate": "monotone", "strokeWidth": 2}, "encoding": {"color": {"field": "s", "type": "nominal"}}},
  {"data": {"name": "b"}, "transform": [{"filter": "datum.p=='AT'"}], "mark": {"type": "rule", "strokeWidth": 7, "strokeCap": "butt"}, "encoding": {"x2": {"field": "x2"}, "stroke": {"field": "s", "type": "nominal", "legend": null}}},
  {"data": {"name": "t"}, "transform": [{"filter": "datum.p=='AT'"}], "mark": {"type": "text", "fontSize": 10.5, "dy": -10, "baseline": "middle", "font": "DejaVu Sans"}, "encoding": {"text": {"field": "l"}, "fill": {"field": "s", "type": "nominal", "legend": null}}}
 ]}
],
"config": {
 "view": {"stroke": null},
 "font": "DejaVu Sans",
 "axis": {"labelFont": "DejaVu Sans", "labelFontSize": 13, "labelColor": "#000000", "titleFont": "DejaVu Sans", "titleFontSize": 13.5, "titleFontWeight": "normal", "titleColor": "#000000", "domainColor": "#000000", "tickColor": "#000000", "tickSize": 5, "labelPadding": 3, "grid": false, "labelFlush": false, "labelOverlap": false},
 "axisY": {"titlePadding": 8, "titleLineHeight": 17, "titleFontSize": 16},
 "axisX": {"titlePadding": 4}
}
}
